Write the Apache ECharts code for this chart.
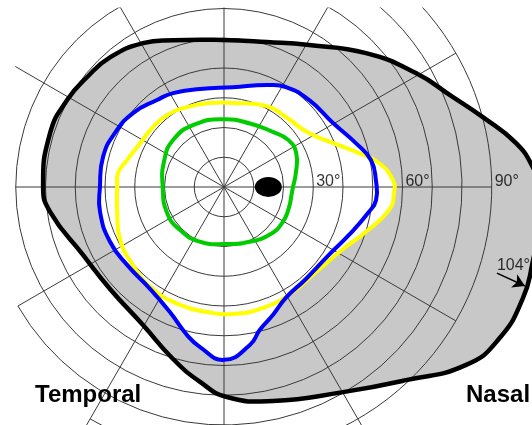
<!DOCTYPE html>
<html><head><meta charset="utf-8">
<script src="https://cdn.jsdelivr.net/npm/echarts@6/dist/echarts.min.js"></script>
<style>html,body{margin:0;padding:0;background:#fff}#c{width:532px;height:425px}</style>
</head><body><div id="c"></div>
<script>
// Isopters: [eccentricity (deg), meridian angle (deg, counter-clockwise from the right horizontal)]
const blackIsopter = [[106,0],[104,3.7],[99.2,8.6],[90.1,15.1],[82.6,21.5],[75,30.7],[65.6,43.3],[55.6,59.1],[50.8,73.5],[49.4,90.4],[52.2,109.1],[55.5,119.4],[58,131.2],[59,141.2],[60.3,151],[61.2,162.8],[60.8,180],[59,188.2],[52.6,205.7],[51.4,221.8],[53.8,239.6],[60.3,253.5],[66,263],[70.6,270.8],[73.8,282.9],[79.7,300.1],[89.2,313.3],[101,323.7],[105.6,331.1],[107.2,339.5],[106.8,346],[106.5,353]];
const blueIsopter = [[51.1,2.6],[50.2,10.4],[46.7,18.4],[42.5,30.4],[40.9,45.7],[39.5,58.2],[37.2,67.1],[33.7,84.9],[33.9,103.8],[35.9,118.5],[36.9,127.6],[39.4,140.9],[40.9,153.6],[41.9,166],[41.7,180],[42.5,191.4],[42.5,205.8],[41.8,218.8],[42.3,234],[45.8,246.6],[51.3,256],[54.4,261.5],[58.1,270],[53.8,279.3],[49.5,284.1],[46,291],[42.6,299.4],[41.4,311.7],[42,327.1],[45,339],[49.4,350.2],[51.3,355.1]];
const yellowIsopter = [[56.8,2.4],[52.7,8.8],[46.8,14.1],[39.5,22],[33.8,32.4],[31.4,48.5],[30.8,62],[28.4,83.9],[28.6,99.5],[29.6,114.8],[30.8,128.4],[31.2,139.8],[31.8,152.4],[33.8,164.4],[35.9,172.5],[35.9,180],[36.9,193.2],[39.1,206.6],[40.3,220.6],[41.8,235.2],[42.3,249.6],[42.4,262.3],[42.8,274.1],[42.7,289.3],[42.2,303.3],[42.1,317.3],[45.1,332.5],[50,342.4],[56,352.1],[57.2,358]];
const greenIsopter = [[23.2,0],[24.6,11],[26.8,25],[26.8,36],[24.8,48],[23.1,67],[22.8,90],[23.2,115],[23.3,137],[21.9,157],[20.6,180],[21,204],[20.7,224],[20.1,246],[19.2,271],[20.3,295],[22.2,314],[23,329],[22.9,342],[22.9,355]];
const blindSpot = [[14.9, 0]];
const ringValues = [30, 60, 90];
const ringLabels = ['30°', '60°', '90°'];
const maxArrow = [[96.2, 342.5], [106.5, 341.8]];
const maxLabel = '104°';
const sideLabels = ['Temporal', 'Nasal'];
// meridians that run past the last drawn ring: [from deg, to deg, meridian]
const meridianExtensions = [[70, 81, 150], [90, 93, 240], [90, 93, 300]];

const CX = 224, CY = 187, PX = 2.975;
const GRID = '#3a3a3a';
const FONT = "'Liberation Sans', Arial, sans-serif";
const hidden = { axisLine: { show: false }, axisTick: { show: false }, axisLabel: { show: false } };

// closed smooth isopter drawn through the polar coordinate system
function isopter(pts, style, z) {
  return {
    type: 'custom', coordinateSystem: 'polar', polarIndex: 0, data: [[0, 0]], silent: true, z: z,
    renderItem: (params, api) => ({
      type: 'polygon',
      shape: { points: pts.map(p => api.coord(p)), smooth: 0.5 },
      style: style
    })
  };
}

const chart = echarts.init(document.getElementById('c'), null, { renderer: 'canvas' });
chart.setOption({
  animation: false,
  backgroundColor: '#fff',
  polar: [
    { center: [CX, CY], radius: [0, 110 * PX] },
    { center: [CX, CY], radius: [0, 70 * PX] },
    { center: [CX, CY], radius: [70 * PX, 80 * PX] },
    { center: [CX, CY], radius: [80 * PX, 90 * PX] }
  ],
  angleAxis: [
    { polarIndex: 0, type: 'value', min: 0, max: 360, startAngle: 0, clockwise: false, show: false },
    Object.assign({ polarIndex: 1, type: 'value', min: 0, max: 360, interval: 30, startAngle: 0, clockwise: false, z: 3,
      splitLine: { show: true, lineStyle: { color: GRID, width: 1 } } }, hidden),
    Object.assign({ polarIndex: 2, type: 'value', min: -150, max: 60, interval: 30, startAngle: -150, endAngle: 60, clockwise: false, z: 3,
      splitLine: { show: true, lineStyle: { color: GRID, width: 1 } } }, hidden),
    Object.assign({ polarIndex: 3, type: 'value', min: -120, max: 60, interval: 30, startAngle: -120, endAngle: 60, clockwise: false, z: 3,
      splitLine: { show: true, lineStyle: { color: GRID, width: 1 } } }, hidden)
  ],
  radiusAxis: [
    { polarIndex: 0, type: 'value', min: 0, max: 110, show: false },
    Object.assign({ polarIndex: 1, type: 'value', min: 0, max: 70, interval: 10, z: 3,
      splitLine: { show: true, lineStyle: { color: GRID, width: 1 } } }, hidden),
    Object.assign({ polarIndex: 2, type: 'value', min: 70, max: 80, interval: 10, z: 3,
      splitLine: { show: true, lineStyle: { color: ['rgba(0,0,0,0)', GRID], width: 1 } } }, hidden),
    Object.assign({ polarIndex: 3, type: 'value', min: 80, max: 90, interval: 10, z: 3,
      splitLine: { show: true, lineStyle: { color: ['rgba(0,0,0,0)', GRID], width: 1 } } }, hidden)
  ],
  graphic: [
    { type: 'rect', left: 0, top: 0, z: 100, shape: { width: 532, height: 7.5 }, style: { fill: '#fff' } },
    { type: 'text', left: 35, top: 383, z: 100, style: { text: sideLabels[0], font: 'bold 24px ' + FONT, fill: '#000' } },
    { type: 'text', left: 466, top: 383, z: 100, style: { text: sideLabels[1], font: 'bold 24px ' + FONT, fill: '#000' } }
  ],
  series: [
    isopter(blackIsopter, { fill: '#c8c8c8', stroke: null }, 1),
    isopter(blueIsopter, { fill: '#ffffff', stroke: null }, 1.5),
    isopter(yellowIsopter, { fill: '#ffffff', stroke: null }, 1.5),
    isopter(blackIsopter, { fill: 'none', stroke: '#000', lineWidth: 4.5 }, 5),
    isopter(yellowIsopter, { fill: 'none', stroke: '#ffff00', lineWidth: 4 }, 5),
    isopter(blueIsopter, { fill: 'none', stroke: '#0000ff', lineWidth: 4 }, 6),
    isopter(greenIsopter, { fill: 'none', stroke: '#00cc00', lineWidth: 4 }, 6),
    { type: 'scatter', coordinateSystem: 'polar', polarIndex: 0, data: blindSpot, symbol: 'circle', symbolSize: [27, 20], silent: true, z: 7,
      itemStyle: { color: '#000', opacity: 1 } },
    { type: 'scatter', coordinateSystem: 'polar', polarIndex: 0, data: ringValues.map(v => [v, 0]), symbolSize: 0.1, silent: true, z: 7,
      itemStyle: { color: 'rgba(0,0,0,0)' },
      label: { show: true, formatter: p => ringLabels[p.dataIndex], position: [3, 3], align: 'left', verticalAlign: 'bottom',
        color: '#000', fontSize: 16, fontFamily: FONT },
      markLine: { silent: true, symbol: ['none', 'none'], animation: false, z: 3,
        lineStyle: { color: GRID, width: 1, type: 'solid' }, label: { show: false },
        data: meridianExtensions.map(m => [{ coord: [m[0], m[2]] }, { coord: [m[1], m[2]] }]) } },
    { type: 'scatter', coordinateSystem: 'polar', polarIndex: 0, data: [maxArrow[0]], symbolSize: 0.1, silent: true, z: 7,
      itemStyle: { color: 'rgba(0,0,0,0)' },
      label: { show: true, formatter: maxLabel, position: [0, 1], align: 'left', verticalAlign: 'bottom',
        color: '#000', fontSize: 16, fontFamily: FONT },
      markLine: { silent: true, symbol: ['none', 'arrow'], symbolSize: [11, 12], animation: false,
        lineStyle: { color: '#000', width: 1.5, type: 'solid' }, label: { show: false },
        data: [[{ coord: maxArrow[0] }, { coord: maxArrow[1] }]] } }
  ]
});
</script></body></html>
